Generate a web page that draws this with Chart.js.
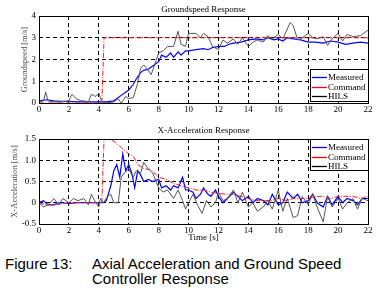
<!DOCTYPE html>
<html>
<head>
<meta charset="utf-8">
<script src="https://cdn.jsdelivr.net/npm/chart.js@4/dist/chart.umd.min.js"></script>
<style>
  html, body { margin: 0; padding: 0; background: #fff; }
  #wrap { position: relative; width: 390px; height: 296px; overflow: hidden; background: #fff; }
  .box { position: absolute; left: 0; width: 390px; }
  .cap { position: absolute; font-family: "Liberation Sans", Arial, sans-serif; font-size: 15px; color: #000; line-height: 15px; white-space: nowrap; }
</style>
</head>
<body>
<div id="wrap">
  <div class="box" style="top:0;height:116px"><canvas id="top" width="390" height="116"></canvas></div>
  <div class="box" style="top:118px;height:126px"><canvas id="bot" width="390" height="126"></canvas></div>
  <div class="cap" style="left:5px;top:256px">Figure 13:</div>
  <div class="cap" style="left:92px;top:256px">Axial Acceleration and Ground Speed</div>
  <div class="cap" style="left:92px;top:271px">Controller Response</div>
</div>
<script>
// ---- groundspeed [m/s] ----
const gsMeasT = [0, 0.5, 1, 1.5, 2, 2.5, 3, 3.5, 4, 4.5, 5, 5.5, 6, 6.3, 6.5, 6.8, 7, 7.3, 7.6, 8, 8.2, 8.5, 8.8, 9, 9.3, 9.5, 9.8, 10, 10.5, 11, 11.3, 11.6, 12, 12.4, 12.7, 13, 13.5, 14, 14.5, 15, 15.3, 15.7, 16, 16.3, 16.6, 17, 17.5, 18, 18.5, 19, 19.5, 20, 20.5, 21, 21.5, 22];
const gsMeas = [0.1, 0.15, 0.1, 0.08, 0.08, 0.05, 0.05, 0.05, 0.05, 0.05, 0.1, 0.35, 0.6, 0.85, 1.1, 1.4, 1.5, 1.55, 1.7, 1.9, 2.2, 2.1, 2.3, 2.1, 2.35, 2.2, 2.4, 2.4, 2.45, 2.5, 2.45, 2.55, 2.6, 2.6, 2.7, 2.75, 2.8, 2.9, 2.95, 2.9, 3.0, 2.9, 2.95, 2.85, 3.0, 2.95, 2.9, 2.8, 2.8, 2.75, 2.85, 2.8, 2.7, 2.75, 2.8, 2.75];
const gsCmdT = [0, 4.2, 4.35, 22];
const gsCmd = [0, 0, 3, 3];
const gsHilsT = [0, 0.3, 0.45, 0.6, 1, 1.5, 2, 2.2, 2.5, 2.8, 3, 3.3, 3.5, 3.8, 4, 4.2, 4.5, 5, 5.3, 5.5, 5.8, 6, 6.3, 6.6, 6.8, 7, 7.2, 7.5, 7.8, 8, 8.3, 8.6, 9, 9.3, 9.5, 9.8, 10, 10.5, 10.8, 11, 11.3, 11.6, 12, 12.3, 12.6, 13, 13.3, 13.6, 14, 14.3, 14.6, 15, 15.3, 15.6, 16, 16.3, 16.6, 16.8, 17, 17.3, 17.6, 18, 18.3, 18.6, 19, 19.3, 19.6, 20, 20.3, 20.6, 21, 21.5, 22];
const gsHils = [0.05, 0.1, 0.5, 0.1, 0.05, 0.05, 0.1, 0.4, 0.2, 0.1, 0.1, 0.05, 0.4, 0.3, 0.45, 0.05, 0.0, 0.05, 0.2, 0.0, 0.3, 0.2, 0.25, 0.9, 1.6, 1.75, 1.6, 1.3, 1.9, 2.3, 2.4, 2.6, 2.6, 3.3, 2.7, 2.6, 3.2, 3.2, 3.0, 3.2, 3.05, 2.6, 2.45, 2.9, 2.75, 2.95, 2.7, 3.0, 2.6, 2.8, 2.9, 2.8, 3.1, 2.95, 3.15, 2.95, 3.4, 3.7, 3.55, 2.9, 3.0, 3.2, 3.0, 2.95, 3.05, 2.65, 2.95, 3.2, 2.85, 3.15, 3.05, 3.1, 3.35];

// ---- x-acceleration [m/s^2] ----
const axMeasT = [0, 0.3, 0.6, 1, 1.3, 1.6, 2, 2.5, 3, 3.5, 4, 4.3, 4.5, 4.8, 5, 5.2, 5.4, 5.6, 5.8, 6, 6.2, 6.4, 6.6, 6.8, 7, 7.3, 7.6, 8, 8.2, 8.5, 8.8, 9, 9.3, 9.6, 9.8, 10, 10.3, 10.5, 10.8, 11, 11.3, 11.5, 11.8, 12, 12.3, 12.6, 13, 13.3, 13.6, 14, 14.3, 14.6, 15, 15.3, 15.6, 16, 16.3, 16.6, 17, 17.3, 17.6, 18, 18.3, 18.6, 19, 19.3, 19.6, 20, 20.3, 20.6, 21, 21.3, 21.6, 22];
const axMeas = [0.0, 0.05, -0.05, -0.05, 0.0, 0.0, -0.02, 0.0, 0.0, 0.0, 0.0, 0.0, 0.05, 0.4, 0.75, 0.9, 0.6, 1.15, 0.75, 0.9, 0.7, 0.35, 0.75, 0.65, 0.5, 0.55, 0.5, 0.55, 0.35, 0.4, 0.3, 0.4, 0.35, 0.6, 0.3, 0.3, 0.25, 0.1, 0.2, 0.35, 0.2, 0.15, 0.3, 0.15, 0.0, 0.1, 0.25, 0.15, 0.05, 0.15, 0.0, 0.1, 0.05, -0.05, 0.2, -0.05, 0.0, 0.25, 0.1, 0.2, 0.0, 0.05, 0.2, 0.0, -0.1, 0.15, -0.05, 0.15, 0.0, 0.1, 0.05, -0.05, 0.1, 0.1];
const axCmdT = [0, 1, 2, 3, 4, 4.2, 4.35, 4.6, 5, 5.5, 6, 6.3, 6.6, 7, 7.5, 8, 8.5, 9, 9.5, 10, 10.5, 11, 11.5, 12, 12.5, 13, 13.5, 14, 14.5, 15, 15.5, 16, 16.5, 17, 17.5, 18, 18.5, 19, 19.5, 20, 20.5, 21, 21.5, 22];
const axCmd = [-0.02, -0.05, 0.0, 0.0, 0.0, 0.0, 1.5, 1.5, 1.45, 1.3, 1.15, 1.1, 0.9, 0.8, 0.78, 0.6, 0.55, 0.45, 0.4, 0.35, 0.3, 0.3, 0.25, 0.22, 0.2, 0.2, 0.15, 0.1, 0.05, 0.05, 0.05, 0.1, 0.05, 0.1, 0.1, 0.1, 0.15, 0.15, 0.1, 0.15, 0.15, 0.15, 0.1, 0.15];
const axHilsT = [0, 0.3, 0.6, 1, 1.3, 1.6, 2, 2.3, 2.6, 3, 3.3, 3.5, 3.8, 4, 4.1, 4.3, 4.6, 4.8, 5, 5.3, 5.5, 5.7, 6, 6.3, 6.5, 6.8, 7, 7.3, 7.6, 8, 8.3, 8.6, 9, 9.3, 9.6, 9.8, 10, 10.3, 10.6, 10.9, 11.2, 11.5, 11.8, 12, 12.3, 12.6, 13, 13.3, 13.6, 14, 14.3, 14.6, 15, 15.3, 15.6, 16, 16.3, 16.6, 17, 17.3, 17.6, 18, 18.3, 18.6, 19, 19.3, 19.6, 20, 20.3, 20.6, 21, 21.3, 21.6, 22];
const axHils = [0.0, -0.1, -0.05, 0.1, -0.05, 0.1, 0.0, 0.1, 0.05, 0.1, -0.05, 0.2, 0.0, -0.1, 0.1, 0.0, 0.15, 0.2, 0.0, 0.0, 0.6, 0.7, 0.8, 0.6, 0.75, 0.7, 0.95, 0.8, 0.7, 0.35, 0.25, 0.3, 0.1, 0.3, 0.05, -0.15, 0.0, 0.2, -0.05, -0.25, 0.05, -0.1, 0.0, 0.25, 0.05, 0.1, 0.3, 0.0, 0.25, -0.1, 0.0, -0.2, -0.1, 0.05, -0.15, 0.3, -0.2, 0.1, -0.35, -0.3, 0.15, -0.05, 0.2, -0.1, -0.45, 0.15, -0.1, 0.1, -0.15, 0.0, 0.1, -0.15, 0.1, 0.05];

const legendNames = ["Measured", "Command", "HILS"];
const SERIF = '"Liberation Serif", "Times New Roman", serif';

function pts(ts, vs) {
  return ts.map((t, i) => ({ x: t, y: vs[i] }));
}

// frame, title and in-plot legend (MATLAB look)
const matlabDeco = {
  id: "matlabDeco",
  afterDraw(chart, args, o) {
    const { ctx, chartArea: a } = chart;
    ctx.save();
    ctx.strokeStyle = "#000";
    ctx.lineWidth = 1;
    ctx.setLineDash([]);
    ctx.strokeRect(Math.round(a.left) + 0.5, Math.round(a.top) + 0.5, Math.round(a.right - a.left), Math.round(a.bottom - a.top));
    ctx.fillStyle = "#000";
    ctx.font = "9px " + SERIF;
    ctx.textAlign = "center";
    ctx.textBaseline = "middle";
    ctx.fillText(o.title, (a.left + a.right) / 2, a.top - o.titleGap);
    // legend box
    const L = o.legend;
    const bx = a.right - L.w, by = L.fromTop ? a.top : a.bottom - L.gap - L.h;
    ctx.fillStyle = "#fff";
    ctx.fillRect(bx, by, L.w, L.h);
    ctx.strokeRect(Math.round(bx) + 0.5, Math.round(by) + 0.5, L.w, L.h);
    ctx.textAlign = "left";
    chart.data.datasets.forEach((ds, i) => {
      const y = Math.round(by + 8 + i * 9.6) + 0.5;
      ctx.strokeStyle = ds.legendColor;
      ctx.lineWidth = 1.3;
      ctx.beginPath();
      ctx.moveTo(bx + 2, y);
      ctx.lineTo(bx + 17, y);
      ctx.stroke();
      ctx.fillStyle = "#000";
      ctx.fillText(ds.label, bx + 18, y);
    });
    ctx.restore();
  },
};

function makeChart(id, sets, yMin, yMax, yStep, yTitle, yTitlePad, xTitle, deco, padTop, xH) {
  const colors = ["#0000ff", "#ff1a1a", "#555555"];
  const legendColors = ["#0000ff", "#ff0000", "#000000"];
  return new Chart(document.getElementById(id), {
    type: "line",
    data: {
      datasets: sets.map((s, i) => ({
        label: legendNames[i],
        data: s,
        borderColor: colors[i],
        legendColor: legendColors[i],
        borderWidth: i === 0 ? 1.2 : 1,
        borderDash: i === 1 ? [5, 1.5, 1, 1.5] : [],
        pointRadius: 0,
        tension: 0,
        order: 2 - i,
      })),
    },
    options: {
      responsive: false,
      animation: false,
      layout: { padding: { top: padTop, right: 22, left: 0, bottom: 0 } },
      plugins: { legend: { display: false }, tooltip: { enabled: false }, matlabDeco: deco },
      scales: {
        x: {
          type: "linear",
          min: 0,
          max: 22,
          ticks: { stepSize: 2, color: "#000", padding: 1, font: { family: SERIF, size: 9 }, maxRotation: 0 },
          grid: { color: "#000", drawTicks: false, lineWidth: 1 },
          border: { display: false, dash: [4, 3] },
          title: { display: !!xTitle, text: xTitle, color: "#000", font: { family: SERIF, size: 9 }, padding: { top: 0, bottom: 1 } },
          afterFit(s) { s.height = xH; },
        },
        y: {
          min: yMin,
          max: yMax,
          ticks: { stepSize: yStep, color: "#000", padding: 3, font: { family: SERIF, size: 9 } },
          grid: { color: "#000", drawTicks: false, lineWidth: 1 },
          border: { display: false, dash: [4, 3] },
          title: { display: true, text: yTitle, color: "#4a4a4a", font: { family: SERIF, size: 8.5 }, padding: { top: yTitlePad, bottom: 0 } },
          afterFit(s) { s.width = 39; },
        },
      },
    },
    plugins: [matlabDeco],
  });
}

makeChart(
  "top",
  [pts(gsMeasT, gsMeas), pts(gsCmdT, gsCmd), pts(gsHilsT, gsHils)],
  0, 4, 1, "Groundspeed [m/s]", 19.5, "",
  { title: "Groundspeed Response", titleGap: 6.5, legend: { w: 58, h: 32, gap: 2, fromTop: false } },
  16, 13
);

makeChart(
  "bot",
  [pts(axMeasT, axMeas), pts(axCmdT, axCmd), pts(axHilsT, axHils)],
  -0.5, 1.5, 0.5, "X-Acceleration [m/s]", 9.5, "Time [s]",
  { title: "X-Acceleration Response", titleGap: 8.5, legend: { w: 58, h: 31, gap: 0, fromTop: true } },
  21, 20
);
</script>
</body>
</html>
